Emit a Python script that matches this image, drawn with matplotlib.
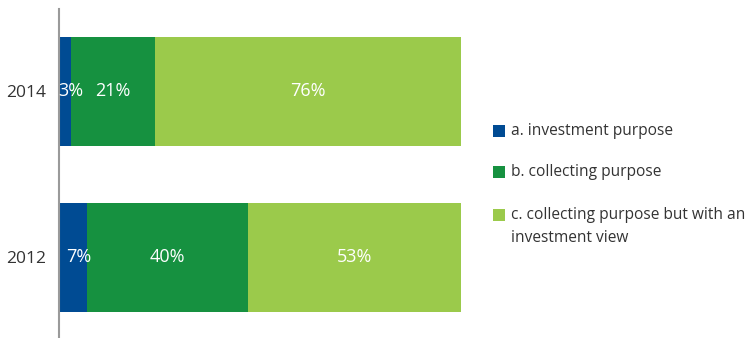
import matplotlib
matplotlib.use("Agg")
import matplotlib.pyplot as plt
from matplotlib.patches import Rectangle

years = ["2012", "2014"]
series_names = ["a. investment purpose", "b. collecting purpose",
                "c. collecting purpose but with an\ninvestment view"]
investment = [7, 3]
collecting = [40, 21]
collecting_inv = [53, 76]
colors = ["#004B93", "#169140", "#9BCA4B"]

plt.rcParams['font.family'] = ['Open Sans', 'DejaVu Sans']

fig = plt.figure(figsize=(7.52, 3.38), dpi=100)
ax = fig.add_axes([59/752, 0, (461-59)/752, 1 - 9/338])

ypos = list(range(len(years)))
left = [0] * len(years)
for vals, col in zip([investment, collecting, collecting_inv], colors):
    ax.barh(ypos, vals, left=left, height=0.657, color=col, linewidth=0)
    for y, v, l in zip(ypos, vals, left):
        ax.text(l + v / 2 + (1.5 if v < 10 else 0), y, f"{v}%", ha="center", va="center",
                color="white", fontsize=13)
    left = [a + b for a, b in zip(left, vals)]

ax.set_xlim(0, 100)
ax.set_ylim(-0.485, 1.497)
ax.set_yticks(ypos)
ax.set_yticklabels(years, fontsize=12.5, color="#333333")
ax.tick_params(axis="y", length=0, pad=9)
ax.set_xticks([])
for s in ["top", "right", "bottom"]:
    ax.spines[s].set_visible(False)
ax.spines["left"].set_color("#9a9a9a")
ax.spines["left"].set_linewidth(1.5)

# legend
rows_y = [131, 172, 215]
for name, col, ry in zip(series_names, colors, rows_y):
    fig.patches.append(Rectangle((493/752, 1 - (ry + 6)/338), 12/752, 12/338,
                                 transform=fig.transFigure, color=col, linewidth=0))
    if "\n" in name:
        fig.text(511/752, 1 - (ry - 8)/338, name, ha="left", va="top",
                 fontsize=11.2, color="#333333", linespacing=1.55)
    else:
        fig.text(511/752, 1 - ry/338, name, ha="left", va="center",
                 fontsize=11.2, color="#333333")

fig.savefig("out.png", dpi=100)
